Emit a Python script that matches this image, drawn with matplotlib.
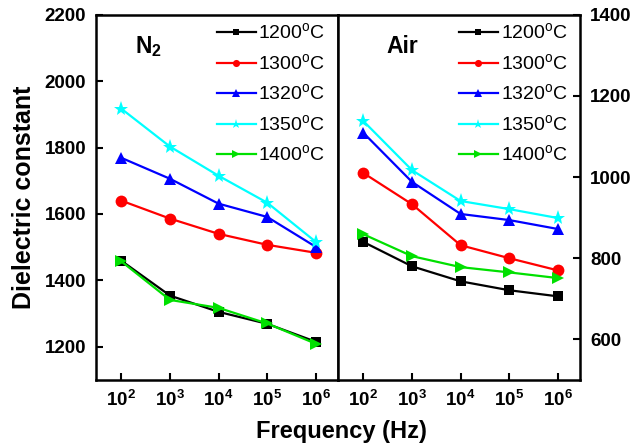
import numpy as np
import matplotlib
matplotlib.use('Agg')
import matplotlib.pyplot as plt
from matplotlib.ticker import NullLocator

plt.rcParams['font.family'] = ['Liberation Sans', 'DejaVu Sans']
plt.rcParams['mathtext.fontset'] = 'custom'
plt.rcParams['mathtext.rm'] = 'Liberation Sans'
plt.rcParams['mathtext.bf'] = 'Liberation Sans:bold'

# frequencies (Hz)
freq = [1e2, 1e3, 1e4, 1e5, 1e6]
temps = ['1200', '1300', '1320', '1350', '1400']

# dielectric constant, samples sintered in N2
n2_1200 = [1459, 1354, 1305, 1269, 1215]
n2_1300 = [1640, 1586, 1540, 1507, 1483]
n2_1320 = [1769, 1706, 1631, 1591, 1501]
n2_1350 = [1917, 1803, 1715, 1634, 1516]
n2_1400 = [1457, 1341, 1317, 1270, 1209]

# dielectric constant, samples sintered in air
air_1200 = [840, 780, 743, 721, 706]
air_1300 = [1010, 933, 832, 800, 770]
air_1320 = [1109, 988, 909, 894, 872]
air_1350 = [1138, 1017, 941, 921, 899]
air_1400 = [859, 805, 778, 765, 751]

colors = ['black', '#ff0000', '#0000ff', '#00ffff', '#00e000']
markers = ['s', 'o', '^', '*', '>']
msizes = [7.5, 8.5, 9, 11, 9]

fig = plt.figure(figsize=(6.32, 4.48), dpi=100)
ax1 = fig.add_axes([0.152, 0.152, 0.383, 0.815])
ax2 = fig.add_axes([0.535, 0.152, 0.383, 0.815])

def draw(ax, series):
    for y, t, c, m, ms in zip(series, temps, colors, markers, msizes):
        ax.plot(freq, y, color=c, marker=m, markersize=ms, markeredgewidth=0,
                linewidth=1.6, label=t + r'$^\mathrm{o}$C')
    ax.set_xscale('log')
    ax.set_xlim(10**1.48, 10**6.46)
    ax.set_xticks(freq)
    ax.set_xticklabels([r'$\mathbf{10^{%d}}$' % k for k in range(2, 7)])
    ax.xaxis.set_minor_locator(NullLocator())
    ax.tick_params(direction='in', length=5, width=1.5, labelsize=13.5, pad=7)
    for sp in ax.spines.values():
        sp.set_linewidth(1.8)
    ax.legend(loc='upper right', bbox_to_anchor=(0.98, 1.0), frameon=False,
              fontsize=14, handlelength=2.0, handletextpad=0.15,
              labelspacing=0.5, markerscale=0.6, borderaxespad=0.0)

draw(ax1, [n2_1200, n2_1300, n2_1320, n2_1350, n2_1400])
ax1.set_ylim(1100, 2200)
ax1.set_yticks([1200, 1400, 1600, 1800, 2000, 2200])
ax1.set_yticklabels(['1200', '1400', '1600', '1800', '2000', '2200'], fontweight='bold')
ax1.set_ylabel('Dielectric constant', fontsize=18, fontweight='bold', labelpad=6)
ax1.text(0.16, 0.895, r'N$_\mathbf{2}$', transform=ax1.transAxes, fontsize=16.5,
         fontweight='bold')

draw(ax2, [air_1200, air_1300, air_1320, air_1350, air_1400])
ax2.set_ylim(500, 1400)
ax2.set_yticks([600, 800, 1000, 1200, 1400])
ax2.set_yticklabels(['600', '800', '1000', '1200', '1400'], fontweight='bold')
ax2.yaxis.tick_right()
ax2.tick_params(axis='y', direction='in', pad=7)
ax2.text(0.2, 0.895, 'Air', transform=ax2.transAxes, fontsize=16.5, fontweight='bold')

fig.text(0.541, 0.022, 'Frequency (Hz)', ha='center', fontsize=17, fontweight='bold')

plt.savefig('out.png', dpi=100)
